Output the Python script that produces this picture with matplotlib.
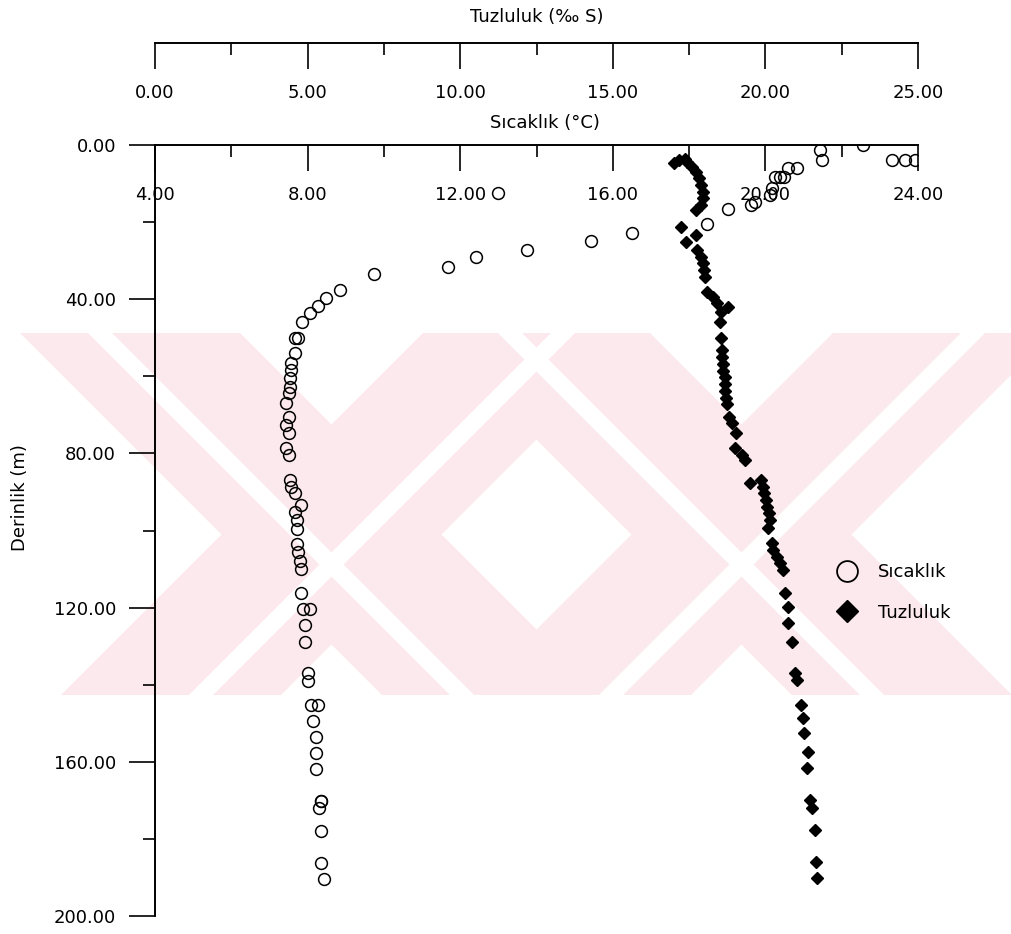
import matplotlib
matplotlib.use('Agg')
import matplotlib.pyplot as plt
from matplotlib.patches import Polygon
from matplotlib.lines import Line2D
from matplotlib.ticker import MultipleLocator, FormatStrFormatter

plt.rcParams['font.family'] = ['DejaVu Sans']

# ---- data ----
temp_depth = [0.0, 1.3, 3.9, 3.9, 3.9, 3.9, 6.0, 6.0, 8.3, 8.3, 8.3, 11.2, 12.5, 13.0,
              14.8, 15.6, 16.6, 20.5, 22.9, 24.9, 27.3, 29.1, 31.7, 33.5, 37.7, 39.7,
              41.8, 43.6, 46.0, 50.1, 50.1, 54.0, 56.6, 58.4, 60.5, 62.9, 64.4, 66.8,
              70.6, 72.7, 74.8, 78.7, 80.5, 87.0, 88.8, 90.4, 93.5, 95.3, 97.4, 99.5,
              103.4, 105.7, 107.8, 109.9, 116.1, 120.3, 120.3, 124.4, 128.8, 136.9,
              139.0, 145.2, 145.2, 149.4, 153.5, 157.7, 161.8, 170.1, 170.1, 171.9,
              177.9, 186.2, 190.4]
temp_values = [22.55, 21.42, 21.48, 23.32, 23.66, 23.92, 20.82, 20.58, 20.50, 20.37, 20.24,
               20.16, 12.99, 20.11, 19.72, 19.63, 19.03, 18.48, 16.51, 15.43, 13.75, 12.41,
               11.67, 9.73, 8.86, 8.47, 8.26, 8.07, 7.86, 7.76, 7.68, 7.68, 7.57, 7.57,
               7.55, 7.55, 7.50, 7.44, 7.50, 7.44, 7.50, 7.44, 7.50, 7.55, 7.57, 7.68,
               7.84, 7.68, 7.71, 7.71, 7.71, 7.76, 7.81, 7.84, 7.84, 7.89, 8.05, 7.94,
               7.94, 8.00, 8.02, 8.10, 8.26, 8.13, 8.21, 8.23, 8.23, 8.34, 8.36, 8.31,
               8.36, 8.36, 8.42]

sal_depth = [3.6, 3.9, 4.4, 4.7, 5.7, 7.0, 8.6, 10.4, 12.2, 13.7, 15.6, 16.9, 21.3, 23.3,
             25.2, 27.2, 29.1, 30.6, 32.4, 34.2, 38.1, 39.4, 41.0, 42.0, 43.3, 45.9, 50.1,
             53.2, 55.0, 56.8, 58.5, 60.3, 62.0, 63.8, 65.5, 67.3, 70.5, 72.1, 74.7, 78.6,
             80.4, 81.7, 86.9, 87.7, 88.7, 90.3, 92.1, 93.9, 95.5, 97.3, 99.4, 103.2,
             105.1, 106.9, 108.4, 110.2, 116.2, 119.8, 124.0, 128.9, 137.0, 138.8, 145.3,
             148.6, 152.5, 157.5, 161.6, 169.9, 172.0, 177.7, 186.0, 190.1]
sal_values = [17.35, 17.18, 17.44, 17.02, 17.61, 17.74, 17.84, 17.90, 17.94, 17.94, 17.90,
              17.74, 17.25, 17.71, 17.41, 17.77, 17.90, 17.97, 18.00, 18.03, 18.10, 18.27,
              18.40, 18.76, 18.56, 18.50, 18.56, 18.59, 18.59, 18.62, 18.62, 18.66, 18.66,
              18.69, 18.72, 18.74, 18.82, 18.92, 19.05, 18.99, 19.22, 19.32, 19.87, 19.48,
              19.91, 19.97, 20.01, 20.04, 20.11, 20.14, 20.07, 20.20, 20.24, 20.37, 20.47,
              20.57, 20.63, 20.73, 20.73, 20.86, 20.96, 21.02, 21.16, 21.22, 21.26, 21.39,
              21.36, 21.45, 21.52, 21.62, 21.65, 21.68]

legend_labels = ['Sıcaklık', 'Tuzluluk']
title_sal = 'Tuzluluk (‰ S)'
title_temp = 'Sıcaklık (°C)'
ylabel = 'Derinlik (m)'

# ---- layout ----
W, H = 1011, 934
fig = plt.figure(figsize=(W / 100, H / 100), dpi=100)


def fx(px):
    return px / W


def fy(py):
    return 1 - py / H


# faint watermark in the background (two striped X shapes)
wm = fig.add_axes([0, 0, 1, 1], zorder=-5)
wm.set_xlim(0, W)
wm.set_ylim(H, 0)
wm.axis('off')
pink = '#fce9ee'
y0, y1 = 333, 695
apex_y, arm_w = 424.5, 220


def back_band(c1, c2):      # band with c1 <= y - x <= c2
    return [(y0 - c2, y0), (y0 - c1, y0), (y1 - c1, y1), (y1 - c2, y1)]


def fwd_band(d1, d2):       # band with d1 <= x + y <= d2
    return [(d1 - y0, y0), (d2 - y0, y0), (d2 - y1, y1), (d1 - y1, y1)]


whites = []
for a in (331.5, 741.5):
    c = apex_y - a
    d = apex_y + a
    wm.add_patch(Polygon(back_band(c, c + arm_w), closed=True, fc=pink, ec='none'))
    wm.add_patch(Polygon(fwd_band(d, d + arm_w), closed=True, fc=pink, ec='none'))
    whites.append(back_band(c + 128, c + 152))
    whites.append(fwd_band(d + 128, d + 152))
for p in whites:
    wm.add_patch(Polygon(p, closed=True, fc='white', ec='none'))

L, R, T, B = 155, 918, 145, 916
LW = 1.4

ax = fig.add_axes([fx(L), fy(B), fx(R - L), (B - T) / H])
ax.set_facecolor('none')
ax.set_xlim(4, 24)
ax.set_ylim(200, 0)
for s in ('right', 'bottom', 'top'):
    ax.spines[s].set_visible(False)
ax.spines['left'].set_linewidth(LW)
ax.set_xticks([])
ax.yaxis.set_major_locator(MultipleLocator(40))
ax.yaxis.set_minor_locator(MultipleLocator(20))
ax.yaxis.set_major_formatter(FormatStrFormatter('%.2f'))
ax.tick_params(axis='y', which='major', direction='out', length=19, width=1.2, pad=9, labelsize=13)
ax.tick_params(axis='y', which='minor', direction='out', length=9, width=1.2)
ax.set_ylabel(ylabel, fontsize=13)
ax.yaxis.set_label_coords((29 - L) / (R - L), (B - 498) / (B - T))

ax.plot(temp_values, temp_depth, ls='none', marker='o', ms=8.5, mfc='none',
        mec='black', mew=1.1, zorder=3)

axs = ax.twiny()
axs.set_xlim(0, 25)
axs.set_xticks([])
for s in axs.spines.values():
    s.set_visible(False)
axs.plot(sal_values, sal_depth, ls='none', marker='D', ms=6.6, color='black', zorder=3)


def scale_axis(ypix, lo, hi, major, minor):
    a = fig.add_axes([fx(L), fy(ypix), fx(R - L), 1e-4])
    a.patch.set_visible(False)
    for s in ('left', 'right', 'top'):
        a.spines[s].set_visible(False)
    a.spines['bottom'].set_linewidth(LW)
    a.set_yticks([])
    a.set_xlim(lo, hi)
    a.xaxis.set_major_locator(MultipleLocator(major))
    a.xaxis.set_minor_locator(MultipleLocator(minor))
    a.xaxis.set_major_formatter(FormatStrFormatter('%.2f'))
    a.tick_params(axis='x', which='major', direction='out', length=18.5, width=1.2, pad=11,
                  labelsize=13)
    a.tick_params(axis='x', which='minor', direction='out', length=8.5, width=1.2)
    return a


scale_axis(T, 4, 24, 4, 2)
scale_axis(43, 0, 25, 5, 2.5)

fig.text(fx(537), fy(17), title_sal, ha='center', va='center', fontsize=13)
fig.text(fx(545), fy(123), title_temp, ha='center', va='center', fontsize=13)

handles = [Line2D([], [], ls='none', marker='o', ms=15, mfc='none', mec='black', mew=1.3),
           Line2D([], [], ls='none', marker='D', ms=11.5, color='black')]
fig.legend(handles, legend_labels, loc='upper left', bbox_to_anchor=(fx(833), fy(563)),
           frameon=False, borderpad=0, borderaxespad=0, handlelength=1.5,
           handletextpad=1.0, labelspacing=1.25, fontsize=13)

fig.savefig('out.png', dpi=100)
